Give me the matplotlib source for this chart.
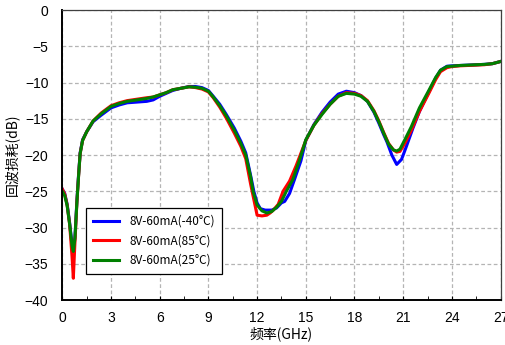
import matplotlib
matplotlib.use("Agg")
import matplotlib.pyplot as plt
from matplotlib.ticker import MultipleLocator

plt.rcParams['font.family'] = ['Liberation Sans', 'Noto Sans CJK SC', 'DejaVu Sans']
cjk = ['Noto Sans CJK SC', 'DejaVu Sans']

# 25°C (green)
f_25 = [0, 0.15, 0.3, 0.45, 0.6, 0.68, 0.78, 0.9, 1.0, 1.1, 1.25, 1.5, 1.9, 2.4, 3.0, 3.5,
        4.0, 4.6, 5.2, 5.6, 6.0, 6.4, 6.8, 7.3, 7.8, 8.2, 8.6, 9.0, 9.3, 9.7, 10.1, 10.6,
        11.0, 11.3, 11.6, 11.75, 12.0, 12.3, 12.6, 12.9, 13.2, 13.5, 13.8, 14.2, 14.6, 15.0,
        15.5, 16.0, 16.5, 17.0, 17.5, 18.0, 18.4, 18.8, 19.2, 19.5, 19.8, 20.1, 20.4, 20.6,
        20.8, 21.1, 21.5, 22.0, 22.6, 23.0, 23.3, 23.7, 24.0, 24.5, 25.0, 25.5, 26.0, 26.5, 27.0]
rl_25 = [-25.0, -25.6, -27.0, -29.5, -32.5, -33.3, -31.5, -26.5, -23.0, -19.8, -18.0, -16.8,
         -15.3, -14.3, -13.3, -12.9, -12.6, -12.4, -12.2, -12.0, -11.7, -11.4, -11.0, -10.8,
         -10.6, -10.65, -10.8, -11.2, -12.0, -13.2, -14.6, -16.6, -18.4, -20.0, -23.0, -25.0,
         -26.9, -27.7, -28.0, -27.8, -27.2, -26.4, -25.0, -23.4, -20.8, -17.9, -15.9, -14.4,
         -13.0, -11.9, -11.5, -11.6, -11.9, -12.6, -14.0, -15.4, -17.0, -18.5, -19.3, -19.45,
         -19.2, -17.9, -16.1, -13.5, -11.0, -9.3, -8.3, -7.8, -7.75, -7.65, -7.6, -7.55, -7.5,
         -7.4, -7.1]

# -40°C (blue)
f_m40 = [0, 0.15, 0.3, 0.45, 0.6, 0.68, 0.78, 0.9, 1.0, 1.1, 1.25, 1.5, 1.9, 2.4, 3.0, 3.5,
         4.0, 4.6, 5.2, 5.6, 6.0, 6.4, 6.8, 7.3, 7.8, 8.2, 8.6, 9.0, 9.3, 9.7, 10.1, 10.6,
         11.0, 11.3, 11.6, 11.8, 12.0, 12.2, 12.5, 12.9, 13.2, 13.5, 13.7, 14.0, 14.3, 14.7,
         15.0, 15.5, 16.0, 16.5, 17.0, 17.5, 18.0, 18.4, 18.8, 19.2, 19.5, 19.8, 20.0, 20.3,
         20.6, 20.9, 21.2, 21.6, 22.0, 22.6, 23.0, 23.3, 23.7, 24.0, 24.5, 25.0, 25.5, 26.0,
         26.5, 27.0]
rl_m40 = [-24.7, -25.3, -26.8, -29.3, -32.3, -33.0, -31.3, -26.3, -22.8, -19.7, -17.9, -16.8,
          -15.4, -14.5, -13.5, -13.1, -12.8, -12.7, -12.6, -12.4, -11.9, -11.5, -11.1, -10.8,
          -10.55, -10.55, -10.7, -11.1, -11.9, -13.0, -14.4, -16.3, -18.1, -19.7, -22.8, -25.0,
          -26.6, -27.4, -27.6, -27.6, -27.3, -26.6, -26.4, -25.3, -23.4, -20.8, -18.0, -15.8,
          -14.1, -12.7, -11.6, -11.2, -11.4, -11.8, -12.6, -14.1, -15.6, -17.2, -18.2, -20.0,
          -21.3, -20.6, -18.8, -16.3, -14.0, -11.2, -9.4, -8.3, -7.75, -7.7, -7.65, -7.6, -7.55,
          -7.5, -7.4, -7.1]

# 85°C (red)
f_85 = [0, 0.15, 0.3, 0.45, 0.6, 0.68, 0.76, 0.9, 1.0, 1.1, 1.25, 1.5, 1.9, 2.4, 3.0, 3.5,
        4.0, 4.6, 5.2, 5.6, 6.0, 6.4, 6.8, 7.3, 7.8, 8.2, 8.6, 9.0, 9.3, 9.7, 10.1, 10.6,
        11.0, 11.3, 11.6, 12.0, 12.3, 12.6, 12.8, 13.0, 13.3, 13.6, 14.0, 14.4, 15.0, 15.5,
        16.0, 16.5, 17.0, 17.5, 18.0, 18.4, 18.8, 19.2, 19.5, 19.8, 20.1, 20.4, 20.6, 20.8,
        21.1, 21.5, 22.0, 22.6, 23.0, 23.3, 23.7, 24.0, 24.5, 25.0, 25.5, 26.0, 26.5, 27.0]
rl_85 = [-24.7, -25.4, -26.9, -29.5, -34.0, -37.0, -33.0, -26.5, -23.0, -19.8, -18.0, -16.8,
         -15.3, -14.2, -13.2, -12.8, -12.5, -12.3, -12.1, -12.0, -11.7, -11.4, -11.0, -10.8,
         -10.6, -10.7, -10.9, -11.3, -12.1, -13.4, -14.9, -17.0, -18.8, -20.5, -24.0, -28.3,
         -28.4, -28.3, -28.0, -27.6, -26.8, -25.0, -23.6, -21.5, -18.0, -15.9, -14.3, -13.0,
         -11.9, -11.4, -11.5, -11.8, -12.5, -13.9, -15.3, -16.9, -18.4, -19.3, -19.6, -19.5,
         -18.4, -16.6, -14.0, -11.4, -9.6, -8.5, -7.95, -7.8, -7.7, -7.65, -7.6, -7.55, -7.4,
         -7.1]

labels = ['8V-60mA(-40°C)', '8V-60mA(85°C)', '8V-60mA(25°C)']

fig = plt.figure(figsize=(5.06, 3.45), dpi=100)
ax = fig.add_axes([0.1231, 0.1304, 0.8662, 0.8406])

ax.plot(f_m40, rl_m40, color='#0000ff', lw=2.2, label=labels[0])
ax.plot(f_85, rl_85, color='#ff0000', lw=2.2, label=labels[1])
ax.plot(f_25, rl_25, color='#008000', lw=2.2, label=labels[2])

ax.set_xlim(0, 27)
ax.set_ylim(-40, 0)
ax.xaxis.set_major_locator(MultipleLocator(3))
ax.xaxis.set_minor_locator(MultipleLocator(1.5))
ax.yaxis.set_major_locator(MultipleLocator(5))
ax.grid(True, which='major', color='#b4b4b4', ls=(0, (3, 2)), lw=0.9)
ax.tick_params(axis='x', which='both', direction='in', length=3, labelsize=10, pad=8)
ax.tick_params(axis='y', length=0, labelsize=10, pad=10)

for s in ['left', 'bottom']:
    ax.spines[s].set_linewidth(1.4)
    ax.spines[s].set_color('black')
for s in ['top', 'right']:
    ax.spines[s].set_linewidth(0.9)
    ax.spines[s].set_color('#404040')

ax.set_xlabel('频率(GHz)', family=cjk, fontsize=10, labelpad=1)
ax.set_ylabel('回波损耗(dB)', family=cjk, fontsize=10, labelpad=4)

leg = ax.legend(loc='lower left', bbox_to_anchor=(0.053, 0.09), borderaxespad=0,
                prop={'family': cjk, 'size': 8.5}, fancybox=False, edgecolor='black',
                framealpha=1, handlelength=2.2, handletextpad=0.9, labelspacing=0.55,
                borderpad=0.6)
leg.get_frame().set_linewidth(0.9)

fig.savefig('out.png', dpi=100)
